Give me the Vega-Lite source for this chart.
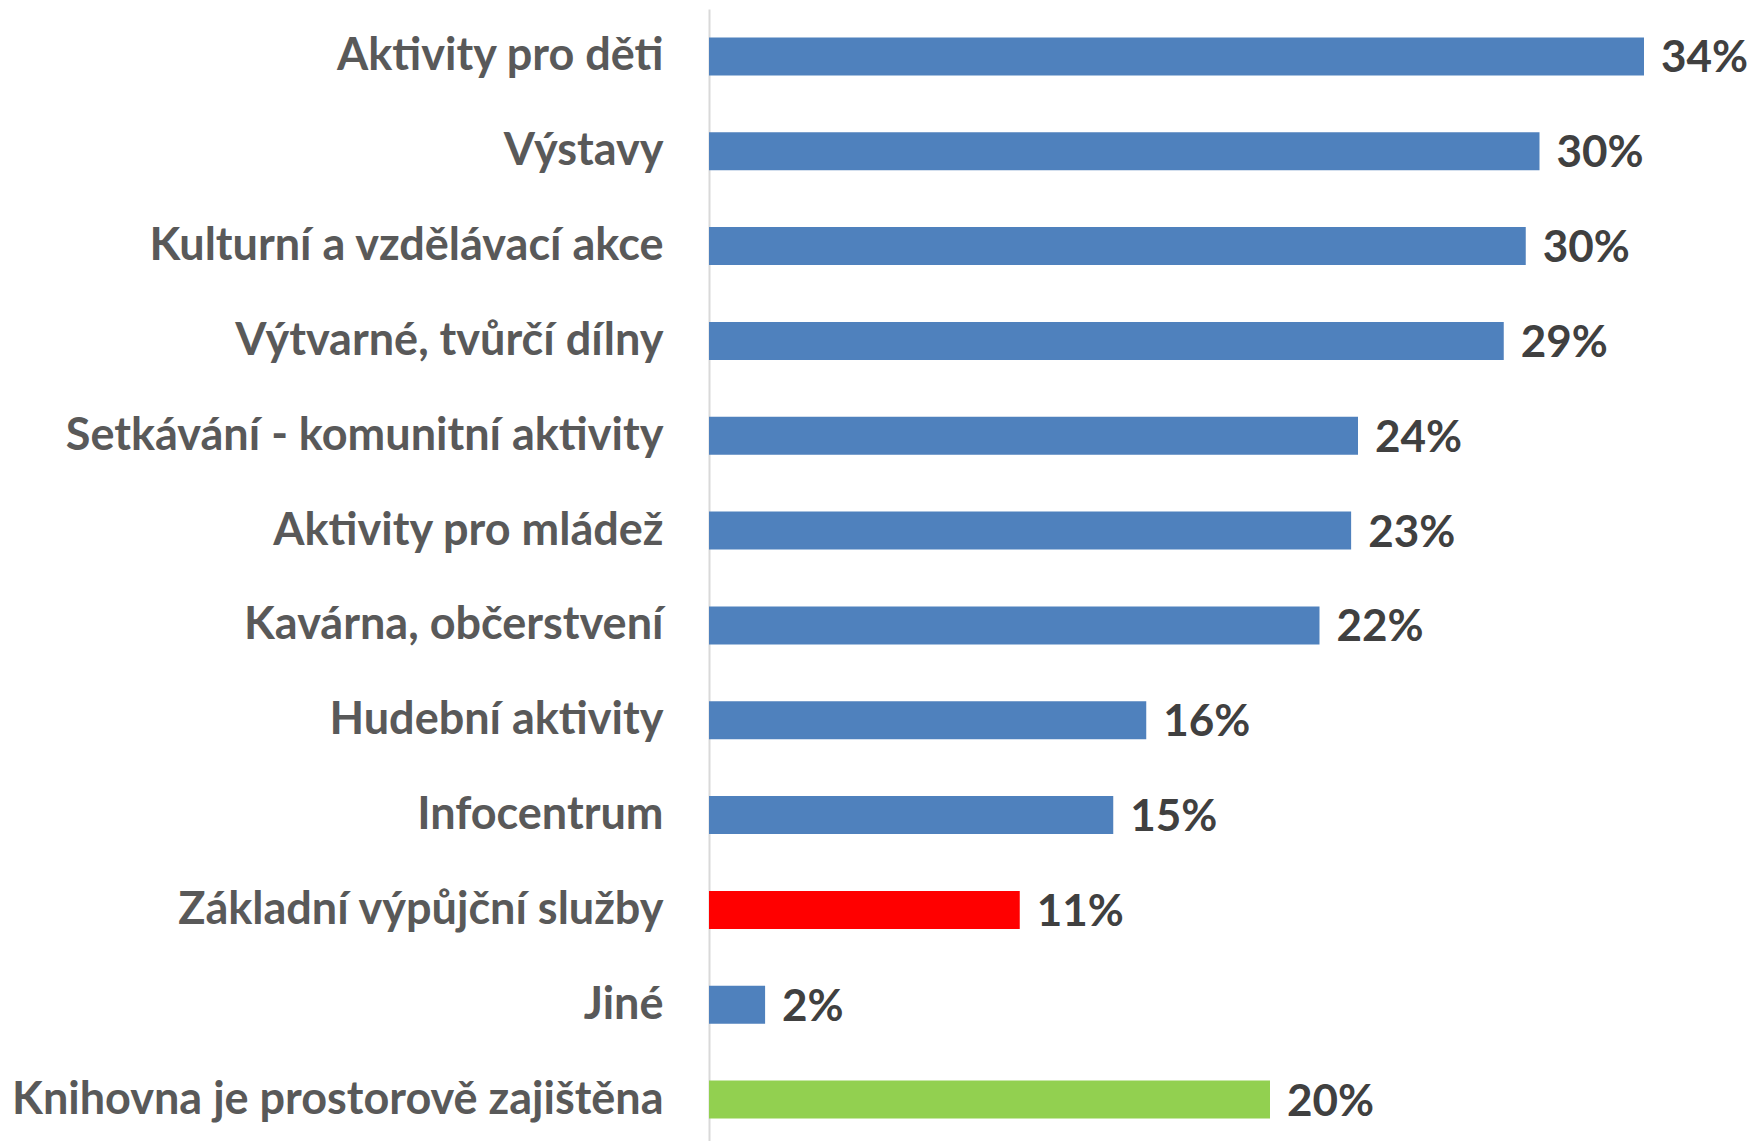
{
  "$schema": "https://vega.github.io/schema/vega-lite/v6.json",
  "autosize": {"type": "none"},
  "padding": {"left": 709, "top": 9, "right": 50, "bottom": 0},
  "width": 990,
  "height": 1138,
  "background": "white",
  "data": {
    "values": [
      {"cat": "Aktivity pro děti\u00a0", "value": 0.340, "kind": "a"},
      {"cat": "Výstavy", "value": 0.302, "kind": "a"},
      {"cat": "Kulturní a vzdělávací akce", "value": 0.297, "kind": "a"},
      {"cat": "Výtvarné, tvůrčí dílny", "value": 0.289, "kind": "a"},
      {"cat": "Setkávání - komunitní aktivity", "value": 0.236, "kind": "a"},
      {"cat": "Aktivity pro mládež", "value": 0.2335, "kind": "a"},
      {"cat": "Kavárna, občerstvení", "value": 0.222, "kind": "a"},
      {"cat": "Hudební aktivity", "value": 0.159, "kind": "a"},
      {"cat": "Infocentrum", "value": 0.147, "kind": "a"},
      {"cat": "Základní výpůjční služby", "value": 0.113, "kind": "b"},
      {"cat": "Jiné", "value": 0.0204, "kind": "a"},
      {"cat": "Knihovna je prostorově zajištěna", "value": 0.204, "kind": "c"}
    ]
  },
  "config": {"view": {"stroke": null}},
  "encoding": {
    "y": {
      "field": "cat", "type": "nominal", "sort": null,
      "scale": {"paddingInner": 0.6, "paddingOuter": 0.3},
      "axis": {
        "title": null, "ticks": false, "labelPadding": 46,
        "labelFont": "Lato", "labelFontWeight": "bold", "labelFontSize": 45,
        "labelColor": "#595959", "labelLimit": 900,
        "domainColor": "#D9D9D9", "domainWidth": 2, "grid": false
      }
    },
    "x": {
      "field": "value", "type": "quantitative",
      "scale": {"domain": [0, 0.36]},
      "axis": null
    }
  },
  "layer": [
    {
      "mark": {"type": "bar"},
      "encoding": {
        "color": {
          "field": "kind", "type": "nominal", "legend": null,
          "scale": {"domain": ["a", "b", "c"], "range": ["#4F81BD", "#FF0000", "#92D050"]}
        }
      }
    },
    {
      "mark": {"type": "text", "align": "left", "baseline": "middle", "dx": 17, "dy": 3,
               "font": "Lato", "fontWeight": "bold", "fontSize": 44, "color": "#404040"},
      "encoding": {
        "text": {"field": "value", "type": "quantitative", "format": ".0%"}
      }
    }
  ]
}
